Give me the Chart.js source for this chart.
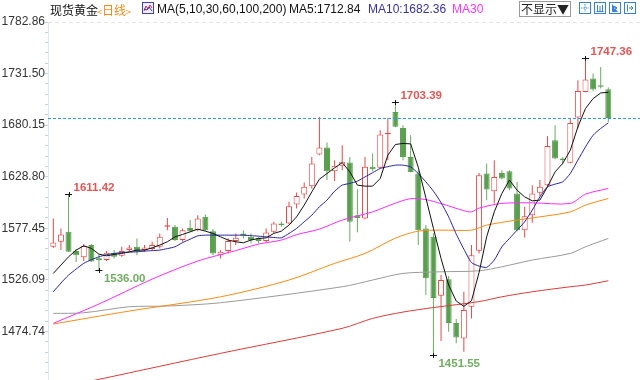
<!DOCTYPE html>
<html><head><meta charset="utf-8">
<script src="https://cdn.jsdelivr.net/npm/chart.js@4"></script>
<style>
html,body{margin:0;padding:0;background:#fff;width:640px;height:380px;overflow:hidden;}
#wrap{position:relative;width:640px;height:380px;}
canvas{position:absolute;left:0;top:0;}
.t{position:absolute;top:2px;font:12px "Liberation Sans","Noto Sans CJK SC",sans-serif;line-height:15px;white-space:nowrap;}
.btn{position:absolute;top:1px;left:519px;width:52px;height:16px;border:1px solid #9a9a9a;box-sizing:border-box;font:12px "Noto Sans CJK SC",sans-serif;line-height:14px;text-align:center;color:#222;}
.ic{position:absolute;top:2px;width:12px;height:12px;}
</style></head><body>
<div id="wrap">
<canvas id="c" width="640" height="380"></canvas>
<span class="t" style="left:50px;color:#111;font-family:'Noto Sans CJK SC',sans-serif;">现货黄金</span>
<span class="t" style="left:97px;color:#f08a1c;font-family:'Noto Sans CJK SC',sans-serif;"><span style="font-size:9px">&lt;</span>日线<span style="font-size:9px">&gt;</span></span>
<svg class="ic" style="left:142px;" viewBox="0 0 12 12"><rect x="0.5" y="0.5" width="11" height="11" fill="#eef" stroke="#4040b0"/><polyline points="2,9 4,4 6,7 8,3 10,6" fill="none" stroke="#d03030" stroke-width="1"/><polyline points="2,7 5,8 7,5 10,9" fill="none" stroke="#3030c0" stroke-width="1"/></svg>
<span class="t" style="left:157px;color:#111;">MA(5,10,30,60,100,200)</span>
<span class="t" style="left:289px;color:#111;">MA5:1712.84</span>
<span class="t" style="left:368px;color:#34349c;">MA10:1682.36</span>
<span class="t" style="left:452px;color:#ff36ff;">MA30</span>
<div class="btn">不显示▼</div>
<svg class="ic" style="left:579px;" viewBox="0 0 12 12"><rect x="0.5" y="0.5" width="11" height="11" fill="#fff" stroke="#3a7fd8"/><path d="M6 2v8M2 6h8" stroke="#3a7fd8" stroke-width="1" stroke-dasharray="1.5 1"/></svg>
<svg class="ic" style="left:594px;" viewBox="0 0 12 12"><rect x="0.5" y="0.5" width="11" height="11" fill="#fff" stroke="#3a7fd8"/><path d="M3.5 3v6M6 4v5M8.5 3v6M2.5 9.5h7" stroke="#3a7fd8" stroke-width="1"/></svg>
<svg class="ic" style="left:609px;" viewBox="0 0 12 12"><rect x="0.5" y="0.5" width="11" height="11" fill="#fff" stroke="#3a7fd8"/><path d="M3.5 2.5v7h5M5 4l3 2-3 2z" stroke="#3a7fd8" fill="#3a7fd8" stroke-width="1"/></svg>
<svg class="ic" style="left:624px;" viewBox="0 0 12 12"><rect x="0.5" y="0.5" width="11" height="11" fill="#fff" stroke="#3a7fd8"/><path d="M3.5 2.5v7M5 6h4M7 4l2 2-2 2" stroke="#3a7fd8" fill="none" stroke-width="1"/></svg>
</div>
<script>
// ---- Daily OHLC ----
const opens  = [1559.0,1564.0,1573.9,1554.7,1548.7,1560.7,1547.7,1545.8,1553.0,1550.0,
                1555.7,1559.0,1555.7,1556.7,1559.0,1578.9,1578.9,1565.7,1577.6,1575.6,
                1588.8,1574.6,1550.7,1554.7,1564.7,1572.3,1568.9,1567.9,1564.7,1573.9,
                1582.3,1582.3,1601.2,1611.1,1619.4,1650.9,1657.9,1634.3,1639.6,1643.0,
                1590.5,1587.2,1638.6,1637.6,1671.1,1693.3,1677.4,1648.5,1632.0,1577.3,
                1568.9,1510.2,1526.8,1483.1,1467.8,1499.3,1555.0,1632.0,1614.4,1632.6,
                1634.3,1612.1,1575.6,1590.5,1612.7,1620.4,1665.2,1646.4,1642.6,1687.7,
                1713.2,1726.5,1719.4,1715.9];
const highs  = [1587.2,1577.3,1611.42,1556.7,1561.7,1561.7,1551.7,1554.7,1555.7,1559.0,
                1560.7,1567.3,1560.7,1564.0,1572.3,1587.8,1580.6,1577.3,1585.6,1590.5,
                1591.2,1576.6,1555.7,1567.3,1572.3,1575.6,1572.3,1568.9,1577.3,1583.9,
                1583.9,1603.8,1613.1,1623.1,1648.5,1688.3,1662.9,1645.3,1660.2,1648.5,
                1616.4,1648.5,1651.9,1675.1,1687.0,1703.39,1680.1,1670.1,1635.3,1580.6,
                1572.6,1530.8,1529.8,1487.0,1514.2,1560.7,1632.6,1642.0,1645.3,1635.3,
                1635.3,1623.7,1598.8,1620.4,1625.4,1669.1,1680.1,1648.5,1686.7,1724.9,
                1747.36,1731.5,1738.1,1717.6];
const lows   = [1557.7,1555.7,1553.7,1543.8,1544.8,1543.8,1536.00,1544.8,1547.4,1549.0,
                1554.0,1550.7,1553.7,1555.7,1557.4,1575.6,1564.7,1564.0,1573.6,1574.6,
                1574.6,1550.7,1547.4,1552.4,1560.7,1567.3,1562.4,1562.4,1563.7,1572.3,
                1578.9,1581.6,1597.2,1607.1,1617.1,1650.2,1625.4,1624.4,1635.3,1564.0,
                1573.6,1586.5,1634.3,1637.3,1645.3,1678.1,1645.3,1633.3,1560.7,1510.9,
                1451.55,1465.2,1474.4,1462.9,1454.5,1487.7,1552.4,1605.5,1602.2,1626.3,
                1615.4,1574.6,1568.3,1582.9,1609.4,1619.4,1646.2,1641.3,1642.3,1676.8,
                1712.9,1713.9,1716.6,1683.4];
const closes = [1563.4,1571.3,1554.0,1550.7,1559.7,1544.3,1545.8,1553.0,1549.0,1554.7,
                1558.4,1554.0,1558.2,1560.7,1568.9,1579.9,1565.7,1575.6,1574.6,1587.2,
                1575.6,1552.4,1554.0,1564.7,1567.9,1569.9,1565.7,1564.7,1573.3,1582.3,
                1580.6,1599.5,1609.7,1618.7,1642.0,1657.9,1634.3,1639.6,1643.6,1583.9,
                1587.8,1638.6,1636.3,1670.8,1672.6,1678.6,1648.5,1633.6,1575.6,1527.8,
                1507.9,1525.9,1483.1,1468.6,1496.0,1550.7,1630.3,1616.1,1628.6,1627.0,
                1617.1,1575.6,1589.5,1612.1,1618.7,1659.5,1646.9,1645.4,1682.4,1714.2,
                1725.5,1715.6,1718.4,1687.3];

// ---- Moving averages ----
const ma5  = [1532.5,1540.8,1549.0,1555.7,1560.0,1557.4,1551.7,1550.0,1551.4,1552.4,
              1554.0,1555.7,1555.7,1558.0,1560.7,1564.0,1568.9,1571.3,1573.9,1576.6,
              1574.6,1572.3,1568.9,1565.7,1564.0,1563.0,1565.7,1567.3,1567.9,1572.3,
              1574.6,1580.6,1588.8,1600.5,1613.7,1626.3,1632.0,1637.6,1642.8,1633.6,
              1620.4,1619.4,1619.4,1627.0,1650.2,1660.9,1661.9,1661.5,1638.3,1607.9,
              1577.3,1547.4,1520.9,1505.0,1499.7,1505.2,1533.3,1568.9,1593.8,1612.1,
              1625.4,1615.4,1608.7,1604.8,1605.5,1618.7,1633.6,1642.0,1655.2,1678.4,
              1696.7,1706.6,1712.2,1712.84];
const ma10 = [1514.2,1522.9,1530.8,1536.8,1542.5,1546.2,1549.0,1551.2,1552.4,1553.2,
              1553.7,1554.0,1554.7,1555.2,1555.7,1557.2,1559.0,1563.2,1566.6,1569.9,
              1570.6,1570.6,1570.6,1570.6,1570.6,1570.6,1570.1,1569.6,1568.9,1568.3,
              1567.9,1572.3,1577.3,1583.9,1590.5,1598.8,1605.5,1614.4,1620.4,1622.1,
              1624.4,1628.6,1632.8,1637.0,1638.8,1640.3,1640.3,1638.6,1632.0,1623.7,
              1614.4,1603.0,1588.8,1571.6,1556.7,1543.3,1539.8,1538.5,1545.8,1559.0,
              1567.3,1575.6,1583.9,1595.5,1608.7,1618.7,1621.4,1623.7,1632.0,1645.3,
              1658.5,1670.1,1676.8,1682.36];
const ma30Idx = [0,6,13,19,24,27,30,32,35,38,42,45,47,49,51,54,55,56,59,63,68,70,73];
const ma30Val = [1482.8,1502.0,1526.8,1544.8,1555.2,1561.7,1565.7,1571.1,1576.6,1585.6,1593.8,1602.5,1606.9,1606.0,1602.0,1595.0,1593.8,1597.5,1602.2,1602.8,1602.2,1611.4,1617.1];
const ma60Idx = [0,10,22,31,37,41,45,48,51,55,57,61,64,68,70,73];
const ma60Val = [1482.1,1495.0,1509.2,1525.9,1542.5,1552.4,1567.6,1574.6,1575.6,1575.6,1580.6,1585.6,1588.8,1593.8,1600.5,1607.1];
const ma100Idx = [0,4,10,15,22,38,42,46,51,56,59,63,68,70,73];
const ma100Val = [1492.7,1493.3,1499.3,1500.0,1503.3,1519.2,1525.9,1532.5,1534.1,1535.1,1539.1,1545.8,1552.4,1559.0,1567.3];
const ma200Idx = [0,6,22,38,42,46,50,56,59,63,68,70,73];
const ma200Val = [1417.5,1427.0,1452.9,1477.8,1487.7,1494.0,1498.5,1504.4,1509.2,1514.2,1519.2,1520.9,1525.2];

// ---- Axis ----
const yTickLabels = ['1474.74','1526.09','1577.45','1628.80','1680.15','1731.50','1782.86'];
const yMin = 1426.35;
// labelled extremes: [candle index, 'high' | 'low']
const markIdx  = [2, 6, 45, 50, 70];
const markSide = ['high','low','high','low','high'];

const RED = '#e24a4a', GREEN = '#5a9e50';
const idx = opens.map((_, i) => i);
const isUp = idx.map(i => closes[i] >= opens[i]);
const majors = yTickLabels.map(parseFloat);
const yMax = majors[majors.length - 1];
const step = (majors[majors.length-1] - majors[0]) / (majors.length - 1) / 5;
const tickObjs = [];
for (let k = 0; ; k++) {
  const v = yMax - k * step;
  if (v < yMin) break;
  const mi = majors.findIndex(m => Math.abs(m - v) < step * 0.01);
  tickObjs.push({ value: mi >= 0 ? majors[mi] : v, lbl: mi >= 0 ? yTickLabels[mi] : '' });
}

const pts = (ix, vals) => ix.map((x, k) => ({ x: x, y: vals[k] }));
const lineDs = (label, data, color, order, tension) => ({
  type: 'line', label, data, borderColor: color, borderWidth: 1, pointRadius: 0,
  fill: false, tension: tension, order: order
});

const overlay = {
  id: 'overlay',
  afterDatasetsDraw(chart) {
    const { ctx, chartArea, scales } = chart;
    const xs = scales.x, ys = scales.y;
    ctx.save();
    ctx.strokeStyle = '#e2e2e2'; ctx.lineWidth = 1; ctx.setLineDash([4, 3]);
    let yy = Math.round(ys.getPixelForValue(yMax)) + 0.5;
    ctx.beginPath(); ctx.moveTo(chartArea.left, yy); ctx.lineTo(chartArea.right, yy); ctx.stroke();
    ctx.strokeStyle = '#2f96f3'; ctx.setLineDash([3, 2]);
    yy = Math.round(ys.getPixelForValue(closes[closes.length - 1])) + 0.5;
    ctx.beginPath(); ctx.moveTo(chartArea.left, yy); ctx.lineTo(chartArea.right, yy); ctx.stroke();
    ctx.setLineDash([]);
    ctx.font = 'bold 11.5px "Liberation Sans", Arial, sans-serif';
    ctx.textBaseline = 'middle'; ctx.textAlign = 'left';
    markIdx.forEach((i, k) => {
      const hi = markSide[k] === 'high';
      const v = hi ? highs[i] : lows[i];
      const px = xs.getPixelForValue(i), py = Math.round(ys.getPixelForValue(v)) + 0.5;
      ctx.strokeStyle = '#111'; ctx.lineWidth = 1;
      ctx.beginPath(); ctx.moveTo(px - 3.5, py); ctx.lineTo(px + 3.5, py);
      ctx.moveTo(Math.round(px) + 0.5, py - 2.5); ctx.lineTo(Math.round(px) + 0.5, py + 2.5); ctx.stroke();
      ctx.fillStyle = hi ? '#e05656' : '#72ad63';
      ctx.fillText(v.toFixed(2), px + 5, hi ? py - 7 : py + 8);
    });
    ctx.restore();
  }
};

new Chart(document.getElementById('c'), {
  type: 'bar',
  data: {
    datasets: [
      lineDs('MA5', pts(idx, ma5), '#111111', 0, 0),
      lineDs('MA10', pts(idx, ma10), '#2424a6', 0.5, 0.2),
      lineDs('MA30', pts(ma30Idx, ma30Val), '#ff2cff', 1, 0.3),
      lineDs('MA60', pts(ma60Idx, ma60Val), '#ff8a14', 1.1, 0.3),
      lineDs('MA100', pts(ma100Idx, ma100Val), '#9a9a9a', 1.2, 0.3),
      lineDs('MA200', pts(ma200Idx, ma200Val), '#e03a3a', 1.3, 0.3),
      {
        type: 'bar', label: 'body', order: 2, grouped: false,
        data: idx.map(i => ({ x: i, y: [Math.min(opens[i], closes[i]), Math.max(opens[i], closes[i])] })),
        backgroundColor: idx.map(i => isUp[i] ? '#ffffff' : GREEN),
        borderColor: idx.map(i => isUp[i] ? RED : GREEN),
        borderWidth: 1, borderSkipped: false, barThickness: 6, minBarLength: 1.5, inflateAmount: 0
      },
      {
        type: 'bar', label: 'wick', order: 3, grouped: false,
        data: idx.map(i => ({ x: i, y: [lows[i], highs[i]] })),
        backgroundColor: idx.map(i => isUp[i] ? RED : '#6aaa60'),
        borderWidth: 0, barThickness: 1, inflateAmount: 0
      }
    ]
  },
  options: {
    responsive: false, animation: false, events: [],
    layout: { padding: { top: 22, left: 0, right: 0, bottom: 0 } },
    plugins: { legend: { display: false }, tooltip: { enabled: false } },
    scales: {
      x: { type: 'linear', display: false, min: -0.7, max: 77.17, offset: false },
      y: {
        type: 'linear', position: 'left', min: yMin, max: yMax,
        afterBuildTicks: s => { s.ticks = tickObjs.map(t => ({ value: t.value, lbl: t.lbl })); },
        ticks: {
          autoSkip: false, padding: 0, color: '#333',
          font: { family: '"Liberation Sans", Arial, sans-serif', size: 12 },
          callback: (v, i, ticks) => ticks[i].lbl
        },
        grid: { drawOnChartArea: false, drawTicks: true, tickLength: 3, color: '#c4d2e4' },
        border: { display: true, color: '#dde7f2' },
        afterFit: s => { s.width = 48; s.paddingTop = 0; s.paddingBottom = 0; }
      }
    }
  },
  plugins: [overlay]
});
</script>
</body></html>
